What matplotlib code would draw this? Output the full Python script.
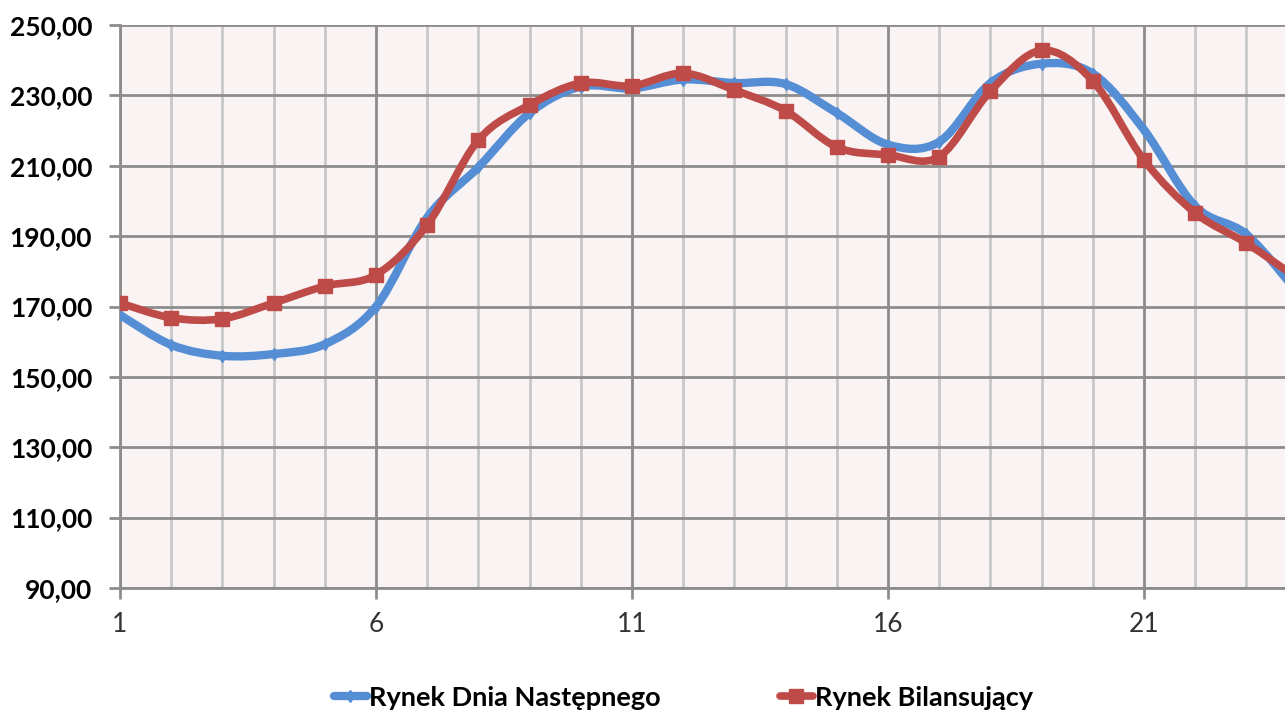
import numpy as np
import matplotlib.pyplot as plt
from matplotlib.path import Path
from matplotlib.patches import PathPatch
from matplotlib.lines import Line2D

plt.rcParams['font.family'] = ['Lato', 'DejaVu Sans']

hours = list(range(1, 25))
rdn = [167.6, 159.1, 156.0, 156.5, 159.3, 170.0, 195.3, 209.6, 225.0, 232.5,
       232.0, 234.5, 233.5, 233.2, 225.0, 216.0, 216.8, 233.5, 239.0, 236.2,
       220.2, 198.5, 190.5, 174.0]
rb = [171.0, 166.8, 166.5, 171.0, 175.8, 179.0, 193.2, 217.3, 227.3, 233.5,
      232.7, 236.3, 231.5, 225.6, 215.3, 213.1, 212.6, 231.2, 242.8, 234.1,
      211.6, 196.6, 188.0, 178.0]
y_ticks = [90, 110, 130, 150, 170, 190, 210, 230, 250]
x_ticks = [1, 6, 11, 16, 21]

c_blue = '#558ED5'
c_red = '#BE4B48'


def smooth_path(x, y):
    # krzywa Beziera jak "wygładzona linia" w Excelu
    x = np.asarray(x, float)
    y = np.asarray(y, float)
    verts = [(x[0], y[0])]
    codes = [Path.MOVETO]
    n = len(x)
    for i in range(n - 1):
        x0, y0 = (x[i - 1], y[i - 1]) if i > 0 else (x[i], y[i])
        x3, y3 = (x[i + 2], y[i + 2]) if i + 2 < n else (x[i + 1], y[i + 1])
        c1 = (x[i] + (x[i + 1] - x0) / 6, y[i] + (y[i + 1] - y0) / 6)
        c2 = (x[i + 1] - (x3 - x[i]) / 6, y[i + 1] - (y3 - y[i]) / 6)
        verts += [c1, c2, (x[i + 1], y[i + 1])]
        codes += [Path.CURVE4] * 3
    return Path(verts, codes)


fig = plt.figure(figsize=(12.85, 7.10), dpi=100)
ax = fig.add_axes([120 / 1285, 122 / 710, 1177.6 / 1285, 563 / 710])
ax.set_facecolor('#F9F3F3')

for h in hours:
    major = (h - 1) % 5 == 0
    ax.axvline(h, color='#8C8C8C' if major else '#C8C8C8', lw=2, zorder=1)
for v in y_ticks:
    ax.axhline(v, color='#8C8C8C', lw=2, zorder=1)

ax.add_patch(PathPatch(smooth_path(hours, rdn), fill=False, ec=c_blue, lw=6,
                       capstyle='round', joinstyle='round', zorder=3))
ax.plot(hours, rdn, ls='none', marker='d', ms=6, color=c_blue, zorder=4)
ax.add_patch(PathPatch(smooth_path(hours, rb), fill=False, ec=c_red, lw=5.5,
                       capstyle='round', joinstyle='round', zorder=5))
ax.plot(hours, rb, ls='none', marker='s', ms=10, color=c_red, zorder=6)

ax.set_xlim(1, 24)
ax.set_ylim(90, 250)
ax.set_yticks(y_ticks)
ax.set_yticklabels([f'{v:.2f}'.replace('.', ',') for v in y_ticks],
                   fontsize=19, fontweight='bold')
ax.set_xticks(x_ticks)
ax.set_xticklabels([str(v) for v in x_ticks], fontsize=19, color='#333333')
ax.tick_params(axis='y', length=8, width=2, color='#8C8C8C', pad=12)
ax.tick_params(axis='x', length=8, width=2, color='#8C8C8C', pad=9)
for s in ['top', 'right']:
    ax.spines[s].set_visible(False)
for s in ['left', 'bottom']:
    ax.spines[s].set_color('#8C8C8C')
    ax.spines[s].set_linewidth(2)

handles = [
    Line2D([], [], color=c_blue, lw=6, marker='d', ms=6, solid_capstyle='round'),
    Line2D([], [], color=c_red, lw=5.5, marker='s', ms=10, solid_capstyle='round'),
]
fig.legend(handles, ['Rynek Dnia Następnego', 'Rynek Bilansujący'],
           loc='center', bbox_to_anchor=(0.532, 0.017), ncol=2, frameon=False,
           prop={'size': 19.5, 'weight': 'bold'}, handlelength=1.2,
           handletextpad=0.1, columnspacing=4.4)

fig.savefig('out.png', dpi=100)
